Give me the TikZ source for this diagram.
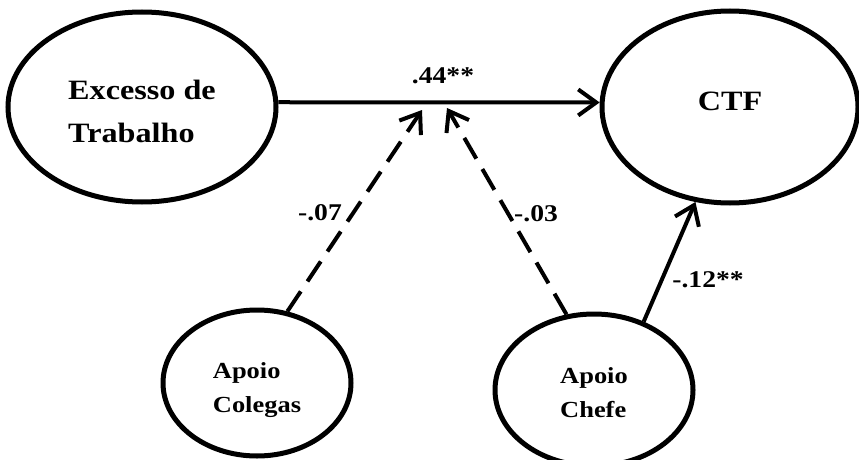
\documentclass[tikz,border=0pt]{standalone}
\usepackage{fontspec}
\setmainfont{Liberation Serif}[FakeStretch=1.15]
\usetikzlibrary{arrows.meta,positioning,shapes.geometric}
\tikzset{
  construto/.style={
    ellipse,
    draw=black,
    line width=5pt,
    inner sep=0pt,
    align=left,
    font=\fontsize{28}{43}\selectfont\bfseries
  },
  moderador/.style={
    construto,
    font=\fontsize{23}{34}\selectfont\bfseries
  },
  coef/.style={
    inner sep=1pt,
    font=\fontsize{24}{28}\selectfont\bfseries
  },
  seta/.style={
    -{Straight Barb[length=18pt,width=26pt]},
    line width=4pt
  },
  setamod/.style={
    seta,
    dash pattern=on 24pt off 12pt
  }
}

\begin{document}
\begin{tikzpicture}[x=1pt,y=1pt]
\useasboundingbox (0,0) rectangle (859,459);
\node[construto, minimum width=268pt, minimum height=190pt, text height=72pt] (exc) at (142,352) {Excesso de\\Trabalho};
\node[construto, minimum width=256pt, minimum height=192pt, text depth=12pt] (ctf) at (730,352) {CTF};
\node[moderador, minimum width=188pt, minimum height=146pt, text height=64pt] (col) at (257,76) {Apoio\\Colegas};
\node[moderador, minimum width=198pt, minimum height=152pt, text height=56pt] (che) at (594,69) {Apoio\\Chefe};
\coordinate (m1) at (422,349);
\coordinate (m2) at (447,351);
\draw[seta] (exc.2) -- (ctf.178);
\draw[setamod] (col.67) -- (m1);
\draw[setamod] (che.110) -- (m2);
\draw[seta] (che.54) -- (ctf.250);
\node[coef] (c1) at (443,383) {.44**};
\node[coef] (c2) at (320,246) {-.07};
\node[coef] (c3) at (536,245) {-.03};
\node[coef] (c4) at (708,179) {-.12**};
\end{tikzpicture}
\end{document}
